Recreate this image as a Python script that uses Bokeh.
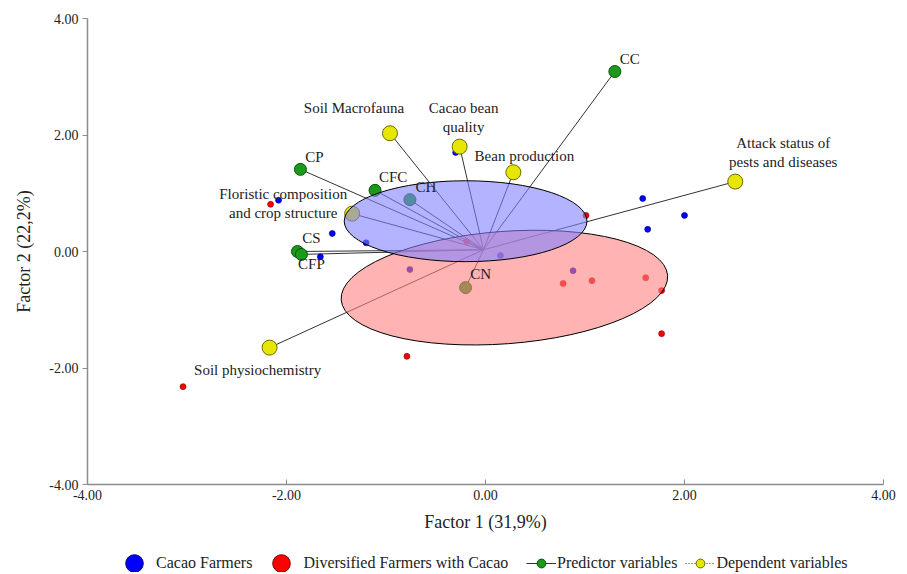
import numpy as np
from bokeh.plotting import figure
from bokeh.layouts import column
from bokeh.models import ColumnDataSource, Legend, LegendItem, FixedTicker, NumeralTickFormatter
from bokeh.core.properties import value
from bokeh.embed import file_html
from bokeh.resources import INLINE

# ---------------- data ----------------
ticks = [-4, -2, 0, 2, 4]

cacao_x = [-2.08, -1.54, -1.20, -1.66, -0.30, 1.58, 2.00, 1.63, 0.15, -0.76, 0.88]
cacao_y = [0.88, 0.31, 0.15, -0.09, 1.70, 0.91, 0.62, 0.38, -0.07, -0.31, -0.33]

divers_x = [-2.16, 1.01, -3.04, -0.79, 1.77, 1.77, 0.78, 1.07, 1.61, -0.19]
divers_y = [0.81, 0.62, -2.32, -1.80, -1.41, -0.67, -0.55, -0.50, -0.45, 0.17]

origin = (-0.02, 0.03)

pred_names = ["CC", "CP", "CFC", "CH", "CS", "CFP", "CN"]
pred_x = [1.30, -1.86, -1.11, -0.76, -1.89, -1.85, -0.20]
pred_y = [3.09, 1.41, 1.05, 0.89, 0.00, -0.05, -0.62]

dep_names = ["Soil Macrofauna", "Cacao bean\nquality", "Bean production",
             "Attack status of\npests and diseases",
             "Floristic composition\nand crop structure", "Soil physiochemistry"]
dep_x = [-0.96, -0.26, 0.28, 2.51, -1.34, -2.17]
dep_y = [2.03, 1.80, 1.36, 1.20, 0.65, -1.65]

# group ellipses (center x, center y, width, height, angle)
ell_cacao = dict(x=[-0.20], y=[0.52], w=[2.44], h=[1.39], a=[0.0])
ell_divers = dict(x=[0.19], y=[-0.62], w=[3.29], h=[1.93], a=[0.075])

# label pixel offsets (style)
pred_dx = [15, 14, 18, 16, 14, 10, 15]
pred_dy = [-13, -12, -13, -13, -14, 10, -14]
dep_dx = [-36, 4, 11, 48, -69, -12]
dep_dy = [-25, -29, -16, -29, -10, 22]

FONT = "Liberation Serif"
BLUE, BLUE_EDGE = "#0000ff", "#00007a"
RED, RED_EDGE = "#ff0000", "#7a0000"
GREEN, GREEN_EDGE = "#1a9a1a", "#0b520b"
YELLOW, YELLOW_EDGE = "#e6e600", "#6b6b00"

p = figure(frame_width=796, frame_height=466, x_range=(-4, 4), y_range=(-4, 4),
           output_backend="svg", toolbar_location=None,
           min_border_left=87, min_border_right=16, min_border_top=18,
           min_border_bottom=52,
           x_axis_label="Factor 1 (31,9%)", y_axis_label="Factor 2 (22,2%)")
p.grid.visible = False
p.outline_line_color = None

for ax in (p.xaxis[0], p.yaxis[0]):
    ax.ticker = FixedTicker(ticks=ticks)
    ax.formatter = NumeralTickFormatter(format="0.00")
    ax.axis_line_color = "#8c8c8c"
    ax.axis_line_width = 1.5
    ax.major_tick_line_color = "#8c8c8c"
    ax.major_tick_line_width = 1
    ax.minor_tick_line_color = None
    ax.major_label_text_font = FONT
    ax.major_label_text_font_size = "14px"
    ax.major_label_text_color = "#222222"
    ax.axis_label_text_font = FONT
    ax.axis_label_text_font_size = "18px"
    ax.axis_label_text_font_style = "normal"
    ax.axis_label_text_color = "#222222"
p.xaxis.major_tick_in = 5
p.xaxis.major_tick_out = 0
p.xaxis.major_label_standoff = 5
p.xaxis.axis_label_standoff = 9
p.yaxis.major_tick_in = 0
p.yaxis.major_tick_out = 5
p.yaxis.major_label_standoff = 4
p.yaxis.axis_label_standoff = 12

# vectors
npred = len(pred_x)
ndep = len(dep_x)
pred_src = ColumnDataSource(dict(x0=[origin[0]] * npred, y0=[origin[1]] * npred,
                                 x1=pred_x, y1=pred_y))
dep_src = ColumnDataSource(dict(x0=[origin[0]] * ndep, y0=[origin[1]] * ndep,
                                x1=dep_x, y1=dep_y))
p.segment("x0", "y0", "x1", "y1", source=pred_src, line_color="#333333", line_width=1)
p.segment("x0", "y0", "x1", "y1", source=dep_src, line_color="#333333", line_width=1)

# farmer points
p.scatter(x=cacao_x, y=cacao_y, size=6, marker="circle",
          fill_color=BLUE, line_color=BLUE_EDGE, line_width=0.6)
p.scatter(x=divers_x, y=divers_y, size=6, marker="circle",
          fill_color=RED, line_color=RED_EDGE, line_width=0.6)

# variable markers
p.scatter(x=dep_x, y=dep_y, size=15, marker="circle",
          fill_color=YELLOW, line_color=YELLOW_EDGE, line_width=1)
p.scatter(x=pred_x, y=pred_y, size=12, marker="circle",
          fill_color=GREEN, line_color=GREEN_EDGE, line_width=1)

# group ellipses
p.ellipse(x=ell_divers["x"], y=ell_divers["y"], width=ell_divers["w"], height=ell_divers["h"],
          angle=ell_divers["a"], fill_color="#ff8080", fill_alpha=0.6,
          line_color="black", line_width=1)
p.ellipse(x=ell_cacao["x"], y=ell_cacao["y"], width=ell_cacao["w"], height=ell_cacao["h"],
          angle=ell_cacao["a"], fill_color="#8080ff", fill_alpha=0.6,
          line_color="black", line_width=1)

# labels
lab_src = ColumnDataSource(dict(x=pred_x + dep_x, y=pred_y + dep_y,
                                text=pred_names + dep_names,
                                dx=pred_dx + dep_dx, dy=pred_dy + dep_dy))
p.text(x="x", y="y", text="text", x_offset="dx", y_offset="dy", source=lab_src,
       text_align="center", text_baseline="middle", text_font=value(FONT),
       text_font_size="15px", text_color="#222222", text_line_height=1.2)

# ---------------- legend strip ----------------
# the strip's ranges lie outside the data, so only the legend itself is visible
lg = figure(width=899, height=36, x_range=(10, 11), y_range=(10, 11),
            output_backend="svg", toolbar_location=None,
            x_axis_type=None, y_axis_type=None, min_border=0)
lg.outline_line_color = None
lg.grid.visible = False

r_blue = lg.scatter(x=cacao_x, y=cacao_y, size=18, marker="circle", fill_color=BLUE,
                    line_color=BLUE_EDGE, line_width=1)
r_red = lg.scatter(x=divers_x, y=divers_y, size=18, marker="circle", fill_color=RED,
                   line_color=RED_EDGE, line_width=1)
r_pline = lg.line(x=pred_x, y=pred_y, line_color="#333333", line_width=1)
r_green = lg.scatter(x=pred_x, y=pred_y, size=9, marker="circle", fill_color=GREEN,
                     line_color=GREEN_EDGE, line_width=1)
r_dline = lg.line(x=dep_x, y=dep_y, line_color="#333333", line_width=1, line_dash="1 2")
r_yellow = lg.scatter(x=dep_x, y=dep_y, size=9, marker="circle", fill_color=YELLOW,
                      line_color=YELLOW_EDGE, line_width=1)

common = dict(orientation="horizontal", padding=0, margin=0, border_line_color=None,
              background_fill_alpha=0, label_text_font=FONT, label_text_font_size="16px",
              label_text_color="#222222", label_text_baseline="middle")

leg_groups = Legend(items=[
    LegendItem(label="Cacao Farmers", renderers=[r_blue]),
    LegendItem(label="Diversified Farmers with Cacao", renderers=[r_red]),
], location=(25, -13), glyph_width=44, glyph_height=44, label_standoff=0,
    spacing=7, **common)
leg_vars = Legend(items=[
    LegendItem(label="Predictor variables", renderers=[r_pline, r_green]),
    LegendItem(label="Dependent variables", renderers=[r_dline, r_yellow]),
], location=(439, -2), glyph_width=30, glyph_height=22, label_standoff=1,
    spacing=8, **common)
lg.add_layout(leg_groups, "center")
lg.add_layout(leg_vars, "center")

layout = column(p, lg, spacing=0)
open("out.html", "w").write(file_html(layout, INLINE))
